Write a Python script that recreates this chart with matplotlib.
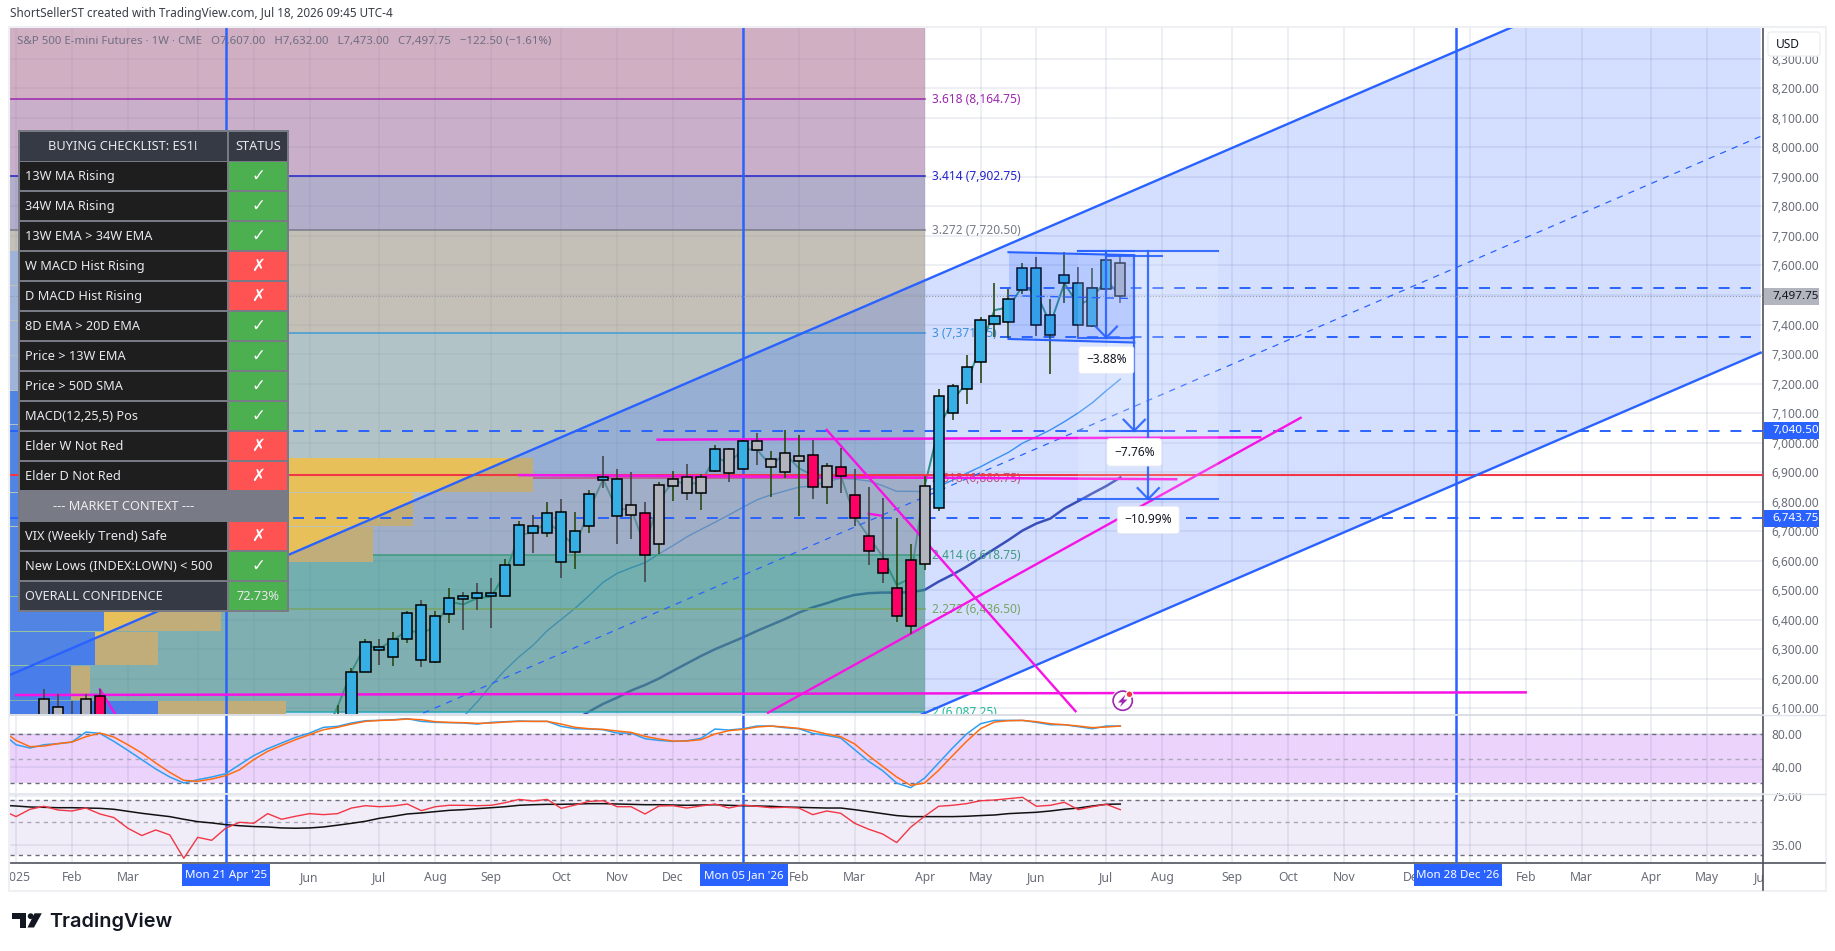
import matplotlib
matplotlib.use("Agg")
import matplotlib.pyplot as plt
import numpy as np
from matplotlib.patches import Rectangle, Circle, Polygon, FancyBboxPatch
from matplotlib.ticker import FuncFormatter, NullLocator

plt.rcParams['font.family'] = ['Noto Sans', 'DejaVu Sans']

W, H = 1835, 951

# x values are weeks counted from Mon 05 Jan '26
candle_week = [-50, -49, -48, -47, -46] + list(range(-29, 28))
opens = [6133, 6103, 6060, 6133, 6140, 5960, 6000, 6224, 6309, 6275, 6336, 6451, 6258, 6421, 6481, 6492, 6489, 6482,
         6587, 6716, 6695, 6766, 6631, 6719, 6882, 6878, 6787, 6763, 6655, 6854, 6882, 6831, 6905, 6980, 6912, 7007,
         6919, 6902, 6939, 6959, 6851, 6919, 6821, 6685, 6607, 6411, 6380, 6590, 6779, 7101, 7182, 7274, 7402, 7409,
         7517, 7592, 7365, 7541, 7541, 7395, 7521, 7607]
highs = [6164, 6147, 6125, 6147, 6164, 6111, 6238, 6334, 6336, 6357, 6431, 6468, 6428, 6509, 6494, 6524, 6543, 6607,
         6733, 6756, 6800, 6810, 6766, 6841, 6953, 6909, 6899, 6800, 6865, 6905, 6929, 6895, 6993, 6983, 7008, 7034,
         6970, 7042, 7027, 7008, 6932, 6983, 6912, 6851, 6814, 6746, 6655, 6888, 7182, 7199, 7297, 7425, 7540, 7521,
         7610, 7630, 7487, 7645, 7596, 7592, 7650, 7632]
lows = [5950, 5950, 5950, 5950, 5950, 5940, 5985, 6224, 6246, 6242, 6321, 6239, 6254, 6390, 6365, 6432, 6371, 6482,
        6587, 6625, 6680, 6542, 6572, 6694, 6845, 6656, 6673, 6527, 6624, 6801, 6805, 6772, 6900, 6866, 6909, 6923,
        6815, 6879, 6751, 6808, 6791, 6828, 6717, 6585, 6524, 6392, 6353, 6568, 6768, 7078, 7130, 7201, 7357, 7353,
        7504, 7360, 7232, 7473, 7357, 7393, 7521, 7473]
closes = [5990, 5990, 5990, 5990, 6000, 6070, 6223, 6323, 6298, 6336, 6424, 6265, 6414, 6472, 6469, 6472, 6479, 6587,
          6722, 6695, 6763, 6594, 6702, 6827, 6875, 6753, 6756, 6621, 6858, 6878, 6831, 6885, 6980, 6898, 7004, 6976,
          6946, 6966, 6953, 6851, 6922, 6888, 6743, 6634, 6560, 6509, 6604, 6854, 7158, 7192, 7257, 7416, 7429, 7487,
          7592, 7399, 7432, 7568, 7399, 7524, 7619, 7497.75]
candle_state = (["gray"] * 4 + ["red"] + ["blue"] * 21 + ["gray", "red"] + ["gray"] * 4 + ["blue", "gray", "blue"]
                + ["gray"] * 4 + ["red", "gray"] + ["red"] * 6 + ["gray"] + ["blue"] * 13 + ["gray"])

line_week = list(range(-30, 28))
close_line = [6000, 6105, 6224, 6314, 6303, 6331, 6365, 6354, 6376, 6461, 6452, 6473, 6478, 6557, 6687, 6696, 6732,
              6693, 6648, 6772, 6876, 6772, 6777, 6648, 6806, 6868, 6862, 6862, 6952, 6930, 6977, 6977, 6921, 6964,
              6913, 6890, 6882, 6889, 6749, 6681, 6614, 6518, 6540, 6851, 7048, 7144, 7201, 7325, 7449, 7458, 7530,
              7506, 7402, 7540, 7466, 7489, 7553, 7495]

ma13_week = list(range(-20, 28))
ma13 = [6071, 6122, 6179, 6230, 6275, 6314, 6363, 6401, 6439, 6482, 6527, 6557, 6576, 6593, 6623, 6651, 6681, 6706,
        6730, 6755, 6781, 6806, 6823, 6836, 6849, 6853, 6868, 6879, 6876, 6870, 6854, 6835, 6835, 6834, 6851, 6873,
        6896, 6918, 6943, 6967, 6998, 7020, 7043, 7071, 7101, 7135, 7176, 7215]
ma34_week = list(range(-12, 28))
ma34 = [6060, 6089, 6115, 6136, 6160, 6179, 6201, 6227, 6252, 6277, 6300, 6320, 6340, 6362, 6382, 6402, 6424, 6442,
        6456, 6472, 6484, 6490, 6492, 6492, 6493, 6501, 6529, 6553, 6580, 6610, 6640, 6670, 6702, 6726, 6743, 6777,
        6802, 6828, 6853, 6882]

osc_week = list(range(-53, 28))
stoch_k = [81.2, 66.9, 62.9, 66.9, 68.2, 70.2, 82.4, 80.8, 71.0, 60.0, 48.6, 37.2, 27.4, 20.0, 24.1, 27.4, 31.4, 42.5,
           53.5, 62.0, 69.0, 75.9, 81.2, 88.2, 89.4, 93.5, 96.3, 96.7, 97.5, 98.8, 95.5, 94.3, 93.9, 93.5, 92.2, 94.3,
           95.1, 95.9, 95.5, 95.5, 89.4, 86.5, 86.1, 85.3, 81.2, 81.2, 74.3, 72.2, 71.0, 71.8, 74.7, 86.1, 84.9, 86.5,
           89.8, 89.8, 87.8, 86.5, 80.8, 78.4, 75.1, 60.8, 46.5, 35.1, 20.0, 14.3, 26.1, 44.5, 62.9, 80.0, 92.6, 96.7,
           96.7, 96.7, 94.3, 91.4, 91.4, 89.0, 86.5, 89.8, 89.8]
stoch_d = [84.5, 72.2, 64.5, 65.3, 68.2, 70.2, 76.7, 81.2, 76.3, 66.9, 56.7, 44.5, 33.1, 23.3, 22.1, 24.9, 29.0, 36.3,
           48.6, 58.8, 66.1, 73.1, 79.2, 85.3, 88.2, 92.2, 95.5, 96.7, 97.1, 98.4, 97.5, 95.1, 94.3, 93.9, 93.1, 93.5,
           94.7, 95.5, 95.5, 95.5, 92.2, 88.2, 86.5, 85.7, 83.7, 82.0, 77.1, 73.9, 71.4, 71.4, 73.1, 80.0, 84.1, 85.7,
           88.6, 89.8, 88.6, 86.9, 84.1, 80.0, 76.7, 67.8, 53.5, 40.4, 27.4, 17.2, 20.0, 35.5, 53.5, 71.0, 86.5, 94.7,
           96.3, 96.7, 95.1, 92.6, 91.4, 89.8, 87.8, 88.6, 89.8]
rsi = [60.3, 54.4, 61.0, 63.9, 60.3, 59.4, 62.2, 56.7, 53.6, 45.4, 40.5, 44.2, 40.9, 28.4, 39.4, 37.6, 45.4, 49.8,
       49.0, 57.0, 52.2, 54.7, 57.0, 56.1, 57.0, 62.2, 64.5, 63.5, 64.2, 66.2, 59.7, 63.5, 64.9, 64.9, 64.5, 64.9,
       67.6, 71.2, 69.4, 71.2, 61.9, 65.2, 69.0, 69.7, 63.5, 63.5, 56.7, 64.2, 64.5, 62.2, 64.2, 66.2, 62.2, 65.2,
       63.9, 62.5, 62.9, 62.2, 56.1, 59.4, 57.3, 49.0, 44.7, 41.5, 36.3, 46.1, 54.7, 63.9, 64.9, 66.6, 69.7, 70.5,
       72.0, 73.5, 63.9, 64.9, 68.0, 60.6, 63.5, 65.9, 60.6]
rsi_ma = [64.9, 64.2, 63.2, 62.9, 62.5, 62.5, 62.2, 61.9, 61.0, 59.1, 57.3, 55.8, 54.4, 52.2, 50.3, 49.3, 48.0, 47.2,
          46.6, 46.3, 45.6, 45.4, 45.6, 46.3, 47.6, 49.0, 50.6, 53.0, 54.7, 56.7, 57.6, 58.8, 60.0, 60.6, 61.6, 62.5,
          63.5, 64.9, 65.5, 65.9, 65.9, 66.2, 66.6, 66.6, 66.2, 65.9, 65.5, 65.5, 65.2, 64.9, 65.2, 65.5, 64.9, 64.5,
          64.2, 63.9, 63.2, 62.9, 62.5, 62.2, 62.2, 60.6, 58.8, 57.0, 55.3, 54.4, 54.4, 54.4, 54.4, 54.7, 55.3, 55.8,
          57.0, 57.6, 58.2, 59.4, 61.0, 62.2, 64.2, 65.9, 66.2]

fib_ratio = ["3.618", "3.414", "3.272", "3", "2.618", "2.414", "2.272", "2"]
fib_price = [8164.75, 7902.75, 7720.50, 7371.75, 6880.75, 6618.75, 6436.50, 6087.25]
fib_line_color = ["#9c27b0", "#2222cc", "#787b86", "#3d9dd6", "#e0505f", "#43a860", "#8bb53c", "#26b99a"]
fib_zone_color = ["#b17b9b", "#a57aa5", "#8078a7", "#9e9689", "#7f9ba2", "#939b8c", "#379c5a", "#509c5f"]

vp_edges = [6011, 6128, 6245, 6362, 6479, 6597, 6716, 6833, 6949, 7063, 7178, 7297, 7415, 7534, 7653]
vp_blue = [10.57, 4.36, 6.07, 6.71, 6.43, 6.43, 6.43, 6.43, 3.57, 3.57, 3.57, 3.57, 3.57, 3.57]
vp_yellow = [9.21, 1.36, 4.5, 8.36, 7.14, 19.57, 22.43, 31.0, 10.0, 10.0, 0, 0, 0, 0]

month_week = [-52, -48, -44, -39, -35, -31, -26, -22, -18, -13, -9, -5, 0, 4, 8, 13, 17, 21, 26, 30, 35, 39, 43, 48,
              52, 56, 60, 65, 69, 73]
month_label = ["2025", "Feb", "Mar", "", "", "Jun", "Jul", "Aug", "Sep", "Oct", "Nov", "Dec", "", "Feb", "Mar", "Apr",
               "May", "Jun", "Jul", "Aug", "Sep", "Oct", "Nov", "Dec", "", "Feb", "Mar", "Apr", "May", "Jun"]
marker_week = [-37, 0, 51]
marker_label = ["Mon 21 Apr '25", "Mon 05 Jan '26", "Mon 28 Dec '26"]

price_ticks = list(range(6100, 8400, 100))

table_names = ["13W MA Rising", "34W MA Rising", "13W EMA > 34W EMA", "W MACD Hist Rising", "D MACD Hist Rising",
               "8D EMA > 20D EMA", "Price > 13W EMA", "Price > 50D SMA", "MACD(12,25,5) Pos", "Elder W Not Red",
               "Elder D Not Red", "--- MARKET CONTEXT ---", "VIX (Weekly Trend) Safe", "New Lows (INDEX:LOWN) < 500"]
table_ok = [1, 1, 1, 0, 0, 1, 1, 1, 1, 0, 0, None, 0, 1]

BLUE = "#2962ff"
MAGENTA = "#f713e4"
GRID = "#7f8fb0"
TEXT = "#6a6d78"
state_color = {"blue": "#36afe4", "gray": "#b2b5be", "red": "#ff0066"}

xmin, xmax = -52.43, 72.81


def pane(top, bottom):
    a = fig.add_axes([10 / W, 1 - bottom / H, (1763.3 - 10) / W, (bottom - top) / H])
    a.set_xlim(xmin, xmax)
    a.set_xticks(month_week)
    a.set_xticklabels([])
    a.grid(True, color=GRID, alpha=0.18, lw=1.1)
    a.set_axisbelow(True)
    a.tick_params(length=0, labelsize=8.6, labelcolor=TEXT, pad=5.8)
    a.yaxis.tick_right()
    for s in ["top", "left", "bottom"]:
        a.spines[s].set_visible(False)
    a.spines["right"].set_color("#50535e")
    a.spines["right"].set_linewidth(1.2)
    for wk in marker_week:
        a.axvline(wk, color=BLUE, lw=1.8, zorder=3)
    return a


fig = plt.figure(figsize=(W / 100, H / 100), dpi=100, facecolor="white")
ax = pane(28, 714)
ax_st = pane(715, 793)
ax_rsi = pane(794, 863)

# main pane
ax.set_ylim(6080.7, 8404.5)
ax.set_yticks(price_ticks)
ax.yaxis.set_major_formatter(FuncFormatter(lambda v, _: f"{v:,.2f}"))

ax.plot(line_week, close_line, color="#2e9c6c", lw=1.4, zorder=1.2)
ax.plot(ma13_week, ma13, color="#3f9bf0", lw=1.0, zorder=1.2)
ax.plot(ma34_week, ma34, color="#3d4aa8", lw=1.8, zorder=1.2)

zone_top = [8500] + fib_price[:-1]
for top, bot, col, lcol in zip(zone_top, fib_price, fib_zone_color, fib_line_color):
    ax.fill_between([xmin, 13.05], bot, top, color=col, alpha=0.6, lw=0, zorder=2)
    ax.plot([xmin, 13.05], [bot, bot], color=lcol, lw=1.1, zorder=2.4)
for r, p, c in zip(fib_ratio, fib_price, fib_line_color):
    ax.text(13.55, p - 2, f"{r} ({p:,.2f})", color=c, fontsize=8.6, va="center", zorder=2.6, clip_on=True)

vp_heights = np.diff(vp_edges)
vp_col = ["#5284e4"] * 10 + ["#9fb2d8"] * 4
ax.barh(vp_edges[:-1], vp_blue, left=xmin, height=vp_heights * 0.98, align="edge", color=vp_col, zorder=2.5)
ax.barh(vp_edges[:-1], vp_yellow, left=xmin + np.array(vp_blue), height=vp_heights * 0.98, align="edge",
        color="#e8c05a", zorder=2.5)

# regression channel
cx = np.array([xmin, xmax])
upper = 6213 + 20.42 * (cx - xmin)
lower = 6082 + 20.42 * (cx - 12.93)
ax.fill_between(cx, lower, upper, color=BLUE, alpha=0.2, lw=0, zorder=3.1)
ax.plot(cx, upper, color=BLUE, lw=1.7, zorder=3.5)
ax.plot(cx, lower, color=BLUE, lw=1.7, zorder=3.5)
ax.plot(cx, (upper + lower) / 2, color=BLUE, lw=0.9, ls=(0, (5, 5)), zorder=3.5)

ax.axhline(7497.75, color="#9598a1", lw=0.8, ls=":", zorder=3.4)
ax.axhline(6891, color="#f23645", lw=1.5, zorder=3.4)
for p in [7040.5, 6743.75]:
    ax.axhline(p, color=BLUE, lw=1.4, ls=(0, (5.6, 5.6)), zorder=3.6)
for p in [7525, 7358]:
    ax.plot([18.4, 72.1], [p, p], color=BLUE, lw=1.4, ls=(0, (5.6, 5.6)), zorder=3.6)

# magenta trend lines
magenta_lines = [([-6.1, 37], [7010, 7018], 1.8), ([-16, 31], [6890, 6876], 1.8), ([-52, 56], [6145, 6154], 1.8),
                 ([6, 23.8], [7043, 6090], 1.7), ([1.8, 39.9], [6085, 7084], 1.7), ([9, 10], [6759, 6752], 1.7),
                 ([-46, -44.9], [6164, 6080], 1.7)]
for xs, ys, lw in magenta_lines:
    ax.plot(xs, ys, color=MAGENTA, lw=lw, zorder=3.8)

# candles
for wk, o, hi, lo, c, st in zip(candle_week, opens, highs, lows, closes, candle_state):
    wick = "#2b4a12" if c >= o else "#46464c"
    ax.vlines(wk, lo, hi, color=wick, lw=1.2, zorder=4)
    ax.bar(wk, abs(c - o), bottom=min(o, c), width=0.72, color=state_color[st], edgecolor="black", lw=1.1, zorder=4.1)

# price range tools and the small parallel channel
ax.fill_between([24, 34], 6809, 7650, color="white", alpha=0.16, lw=0, zorder=4.6)
ax.fill_between([26, 30], 7040.5, 7632, color="white", alpha=0.1, lw=0, zorder=4.6)
ax.fill_between([19, 28], [7351, 7339], [7645, 7635], color=BLUE, alpha=0.2, lw=0, zorder=4.7)
ax.plot([19, 28], [7645, 7635], color=BLUE, lw=1.5, zorder=5)
ax.plot([19, 28], [7351, 7339], color=BLUE, lw=1.5, zorder=5)
ax.plot([19, 28], [7498, 7488], color=BLUE, lw=1.0, ls=(0, (6, 4)), zorder=5)

measures = [(26, 7650, 7356, 24, 28), (28, 7632, 7040.5, 26, 30), (29, 7650, 6809, 24, 34)]
for wk, p0, p1, x0, x1 in measures:
    ax.plot([x0, x1], [p0, p0], color=BLUE, lw=1.5, alpha=0.9, zorder=5)
    ax.plot([x0, x1], [p1, p1], color=BLUE, lw=1.5, alpha=0.9, zorder=5)
    ax.plot([wk, wk], [p0, p1], color=BLUE, lw=1.6, alpha=0.9, zorder=5)
    ax.plot([wk - 0.76, wk, wk + 0.76], [p1 + 37, p1, p1 + 37], color=BLUE, lw=1.6, alpha=0.9, zorder=5)

for wk, p, s in [(26, 7280, "\u22123.88%"), (28, 6967, "\u22127.76%"), (29, 6738, "\u221210.99%")]:
    ax.text(wk, p, s, fontsize=8.6, color="#131722", ha="center", va="center", zorder=6,
            bbox=dict(boxstyle="round,pad=0.6,rounding_size=0.25", fc="white", ec="#e6e9f0", lw=0.6))

# stochastic
ax_st.set_ylim(7.8, 103.3)
ax_st.set_yticks([80, 40])
ax_st.yaxis.set_major_formatter(FuncFormatter(lambda v, _: f"{v:.2f}"))
ax_st.axhspan(20, 80, color="#9c27f0", alpha=0.2, lw=0, zorder=1)
for lv, c in [(80, "#6a6d78"), (50, "#a9a7b8"), (20, "#6a6d78")]:
    ax_st.axhline(lv, color=c, lw=1.0, ls=(0, (3, 3)), zorder=2)
ax_st.plot(osc_week, stoch_k, color="#2f9ff0", lw=1.1, zorder=4)
ax_st.plot(osc_week, stoch_d, color="#ff6d12", lw=1.1, zorder=4)

# rsi (log pane)
ax_rsi.set_yscale("log")
ax_rsi.set_ylim(26.4, 77.4)
ax_rsi.yaxis.set_minor_locator(NullLocator())
ax_rsi.yaxis.set_minor_formatter(FuncFormatter(lambda v, _: ""))
ax_rsi.set_yticks([75, 35])
ax_rsi.yaxis.set_major_formatter(FuncFormatter(lambda v, _: f"{v:.2f}"))
ax_rsi.grid(True, color=GRID, alpha=0.18, lw=1.1)
ax_rsi.axhspan(30, 70, color="#7e57c2", alpha=0.1, lw=0, zorder=1)
for lv, c in [(70, "#6a6d78"), (50, "#a9a7b8"), (30, "#6a6d78")]:
    ax_rsi.axhline(lv, color=c, lw=1.0, ls=(0, (3, 3)), zorder=2)
ax_rsi.plot(osc_week, rsi_ma, color="#111111", lw=1.1, zorder=4)
ax_rsi.plot(osc_week, rsi, color="#f23645", lw=1.0, zorder=4)

ax_rsi.spines["bottom"].set_visible(True)
ax_rsi.spines["bottom"].set_color("#50535e")
ax_rsi.spines["bottom"].set_linewidth(1.2)
ax_rsi.set_xticklabels(month_label)
ax_rsi.tick_params(axis="x", labelsize=8.8, labelcolor=TEXT, pad=6)

# overlay in pixel coordinates for the screen furniture
ui = fig.add_axes([0, 0, 1, 1])
ui.set_xlim(0, W)
ui.set_ylim(H, 0)
ui.axis("off")
ui.patch.set_alpha(0)
ui.set_zorder(10)


def box(x0, y0, x1, y1, **kw):
    ui.add_patch(Rectangle((x0, y0), x1 - x0, y1 - y0, **kw))


box(0, 864, 10, 889, fc="white", lw=0)
box(1764, 864, 1824, 889, fc="white", lw=0)
box(1764, 786, 1824, 792.5, fc="white", lw=0)
ui.plot([1763.3, 1763.3], [863, 890], color="#50535e", lw=1.2)
ui.plot([1763.3, 1825], [863, 863], color="#50535e", lw=1.2)
ui.plot([1763.3, 1825], [714.5, 714.5], color="#e0e3eb", lw=1)
ui.plot([1763.3, 1825], [793.5, 793.5], color="#e0e3eb", lw=1)
ui.plot([10, 1763.3], [714.5, 714.5], color="#d5d8e0", lw=1.2)
ui.plot([10, 1763.3], [793.5, 793.5], color="#e0e3eb", lw=1.2)
box(9, 27, 1826, 891, fc="none", ec="#eef0f4", lw=1.5)

ui.text(10, 14, "ShortSellerST created with TradingView.com, Jul 18, 2026 09:45 UTC-4", fontsize=8.45, color="#3a3d46",
        va="center")
ui.text(17, 41, "S&P 500 E-mini Futures \u00b7 1W \u00b7 CME   O7,607.00   H7,632.00   L7,473.00   C7,497.75   "
        "\u2212122.50 (\u22121.61%)", fontsize=8.25, color="#6f6f80", va="center")

# price scale boxes
ui.add_patch(FancyBboxPatch((1768, 32), 52, 24, boxstyle="round,pad=0,rounding_size=3", fc="white", ec="#eceef2"))
ui.text(1776, 45, "USD", fontsize=8.6, color="#131722", va="center")
for y0, txt, fc, tc in [(288, "7,497.75", "#b2b5be", "#131722"), (422, "7,040.50", BLUE, "white"),
                        (510, "6,743.75", BLUE, "white")]:
    box(1764, y0, 1819, y0 + 17, fc=fc, lw=0)
    ui.text(1772, y0 + 8, txt, fontsize=8.4, color=tc, va="center")

# time scale markers
for wk, s in zip(marker_week, marker_label):
    cx_px = 744 + 14 * wk
    box(cx_px - 44, 863.5, cx_px + 44, 886, fc=BLUE, lw=0)
    ui.text(cx_px, 875.5, s, fontsize=8.3, color="white", ha="center", va="center")

# checklist table
box(18, 130, 289, 612, fc="#787b86", lw=0)
box(20, 132, 226.5, 160.5, fc="#363a45", lw=0)
box(229, 132, 287, 160.5, fc="#363a45", lw=0)
ui.text(123, 146, "BUYING CHECKLIST: ES1!", fontsize=9.2, fontweight="medium", color="#e8e9ee", ha="center",
        va="center")
ui.text(258, 146, "STATUS", fontsize=9.2, fontweight="medium", color="#e8e9ee", ha="center", va="center")
for i, (name, ok) in enumerate(zip(table_names, table_ok)):
    y0 = 162 + 30 * i
    if ok is None:
        ui.text(124, y0 + 15, name, fontsize=9.2, fontweight="medium", color="#eeeeee", ha="center", va="center")
        continue
    box(20, y0, 226.5, y0 + 28, fc="#1e1e1e", lw=0)
    box(229, y0, 287, y0 + 28, fc="#4caf50" if ok else "#ff5252", lw=0)
    ui.text(25, y0 + 14.5, name, fontsize=9.2, fontweight="medium", color="#e8e9ee", va="center")
    ui.text(258, y0 + 14, "\u2713" if ok else "\u2717", fontsize=12, fontweight="bold", color="white", ha="center",
            va="center", family="DejaVu Sans")
box(20, 582, 226.5, 610, fc="#363a45", lw=0)
box(229, 582, 287, 610, fc="#4caf50", lw=0)
ui.text(25, 596, "OVERALL CONFIDENCE", fontsize=9.2, fontweight="medium", color="#e8e9ee", va="center")
ui.text(258, 596, "72.73%", fontsize=9.2, fontweight="medium", color="#e8e9ee", ha="center", va="center")

# alert icon
ui.add_patch(Circle((1122.7, 700.7), 11.5, fc="white", lw=0))
ui.add_patch(Circle((1122.7, 700.7), 9.6, fc="white", ec="#9c27b0", lw=1.2))
ui.add_patch(Polygon([(1125.5, 694.5), (1118, 702.5), (1122, 702.5), (1120, 707), (1127.5, 699.5), (1123.5, 699.5)],
                     fc="#9c27b0", lw=0))
ui.add_patch(Circle((1129.5, 694.3), 4, fc="white", lw=0))
ui.add_patch(Circle((1129.5, 694.3), 2.7, fc="#f23645", lw=0))

# logo
ui.add_patch(Polygon([(12.3, 913.3), (26, 913.3), (26, 927.5), (20, 927.5), (20, 919), (12.3, 919)], fc="#131722",
                     lw=0))
ui.add_patch(Circle((30.7, 916.2), 2.9, fc="#131722", lw=0))
ui.add_patch(Polygon([(34.5, 913.3), (41.8, 913.3), (34, 927.5), (27.5, 927.5)], fc="#131722", lw=0))
ui.text(49.5, 921.5, "TradingView", fontsize=14.3, fontweight="semibold", color="#131722", va="center", family="Inter")

fig.savefig("out.png", dpi=100)
